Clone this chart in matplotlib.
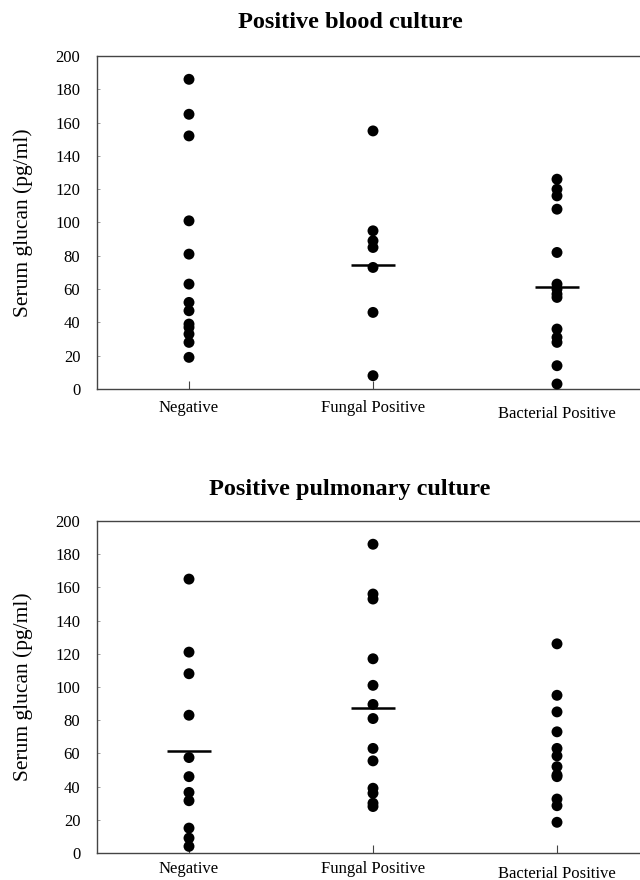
import matplotlib
matplotlib.use("Agg")
import matplotlib.pyplot as plt

categories = ["Negative", "Fungal Positive", "Bacterial Positive"]
yticks = [0, 20, 40, 60, 80, 100, 120, 140, 160, 180, 200]

blood_negative = [186, 165, 152, 101, 81, 63, 52, 47, 39, 37, 33, 28, 19]
blood_fungal = [155, 95, 89, 85, 73, 46, 8]
blood_bacterial = [126, 120, 116, 108, 82, 63, 60, 57, 55, 36, 31, 28, 14, 3]
blood_medians = [None, 74.7, 61.5]

pulm_negative = [165, 121, 108, 83, 57.5, 46, 36.5, 31.5, 15, 9, 4]
pulm_fungal = [186, 156, 153, 117, 101, 89.5, 81, 63, 55.5, 39, 36, 30, 28]
pulm_bacterial = [126, 95, 85, 73, 63, 58.5, 52, 47, 46, 32.5, 28.5, 18.5]
pulm_medians = [61.5, 87.3, None]

plt.rcParams['font.family'] = ['Liberation Serif', 'DejaVu Serif']

fig = plt.figure(figsize=(6.4, 8.8), dpi=100)

W, H = 640.0, 880.0
ax_left = 97 / W
ax_width = 552 / W

panels = [
    ("Positive blood culture", [blood_negative, blood_fungal, blood_bacterial], blood_medians,
     (880 - 389) / H, (389 - 56) / H, 22 / H, 8, 12),
    ("Positive pulmonary culture", [pulm_negative, pulm_fungal, pulm_bacterial], pulm_medians,
     (880 - 853) / H, (853 - 521) / H, 489 / H, 6, 9),
]

for title, groups, medians, bottom, height, title_y, xpad, xpad3 in panels:
    ax = fig.add_axes([ax_left, bottom, ax_width, height])
    for i, vals in enumerate(groups):
        xpos = [i + 1] * len(vals)
        ax.scatter(xpos, vals, s=62, color='black', edgecolors='none', zorder=3, clip_on=False)
        if medians[i] is not None:
            ax.hlines(medians[i], i + 1 - 0.12, i + 1 + 0.12, colors='black', linewidth=1.8, zorder=4)
    ax.set_xlim(0.5, 3.5)
    ax.set_ylim(0, 200)
    ax.set_yticks(yticks)
    ax.set_yticklabels([str(t) for t in yticks])
    ax.set_xticks([1, 2, 3])
    ax.set_xticklabels(categories)
    ax.tick_params(axis='x', direction='in', length=6, width=0.8, color='#444444',
                   labelsize=12, pad=xpad)
    ax.tick_params(axis='y', direction='in', length=2, width=0.6, color='#888888',
                   labelsize=12, pad=12)
    ticks = ax.xaxis.get_major_ticks()
    ticks[2].set_pad(xpad3)
    for side in ['left', 'top', 'bottom']:
        ax.spines[side].set_color('#444444')
        ax.spines[side].set_linewidth(1.0)
    ax.spines['right'].set_visible(False)
    ax.set_ylabel("Serum glucan (pg/ml)", fontsize=15.5)
    ax.yaxis.set_label_coords(-0.116, 0.5)
    fig.text(350 / W, 1 - title_y, title, ha='center', va='center',
             fontsize=17.5, fontweight='bold')

fig.savefig("out.png", dpi=100)
